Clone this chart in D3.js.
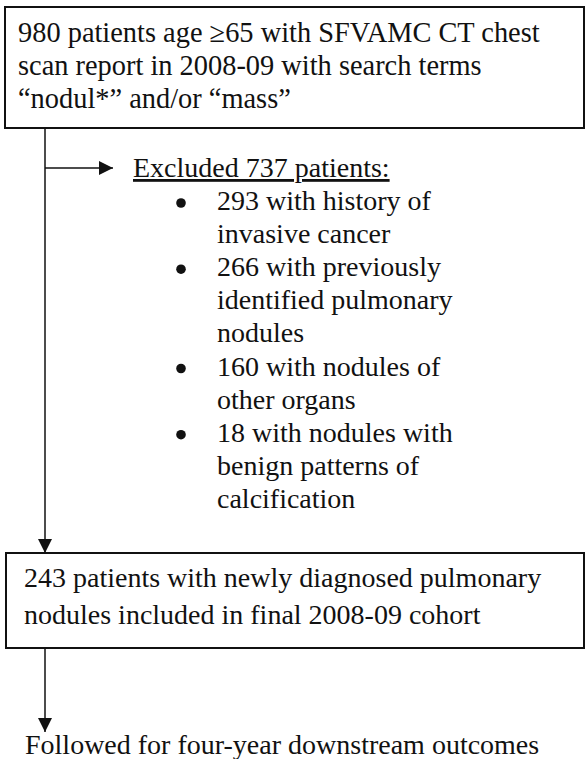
<!DOCTYPE html>
<html>
<head>
<meta charset="utf-8">
<script src="https://cdn.jsdelivr.net/npm/d3@7"></script>
<style>
  body { margin: 0; background: #fff; }
</style>
</head>
<body>
<div id="chart"></div>
<script>
// flowchart text, one entry per printed line
var topLines = [
    '980 patients age \u226565 with SFVAMC CT chest',
    'scan report in 2008-09 with search terms',
    '\u201cnodul*\u201d and/or \u201cmass\u201d'
];
var excludedTitle = 'Excluded 737 patients:';
var excludedItems = [
    ['293 with history of', 'invasive cancer'],
    ['266 with previously', 'identified pulmonary', 'nodules'],
    ['160 with nodules of', 'other organs'],
    ['18 with nodules with', 'benign patterns of', 'calcification']
];
var cohortLines = [
    '243 patients with newly diagnosed pulmonary',
    'nodules included in final 2008-09 cohort'
];
var followLine = 'Followed for four-year downstream outcomes';

var width = 585, height = 759;
var font = '"Liberation Serif", "Times New Roman", serif';
var fs = 28;

var svg = d3.select('#chart').append('svg')
    .attr('width', width)
    .attr('height', height)
    .style('font-family', font)
    .style('font-size', fs + 'px');

svg.append('defs').append('marker')
    .attr('id', 'head')
    .attr('viewBox', '0 0 14 14')
    .attr('refX', 14)
    .attr('refY', 7)
    .attr('markerWidth', 14)
    .attr('markerHeight', 14)
    .attr('markerUnits', 'userSpaceOnUse')
    .attr('orient', 'auto')
  .append('path')
    .attr('d', 'M0,0L14,7L0,14Z')
    .attr('fill', '#111');

var spineX = 45;

// top box
svg.append('rect')
    .attr('x', 5).attr('y', 7)
    .attr('width', 579).attr('height', 121)
    .attr('fill', 'none').attr('stroke', '#111').attr('stroke-width', 2);

var yTop = d3.scaleLinear().domain([0, 1]).range([42, 75]);
svg.selectAll('.topLine')
    .data(topLines)
    .enter().append('text')
        .attr('class', 'topLine')
        .attr('x', 18)
        .attr('y', (d, i) => yTop(i))
        .attr('fill', '#111')
        .style('font-size', '28.4px')
        .text(d => d);

// spine down to the cohort box
svg.append('line')
    .attr('x1', spineX).attr('x2', spineX)
    .attr('y1', 128).attr('y2', 553)
    .attr('stroke', '#111').attr('stroke-width', 1.5)
    .attr('marker-end', 'url(#head)');

// branch to exclusions
svg.append('line')
    .attr('x1', spineX).attr('x2', 113)
    .attr('y1', 168).attr('y2', 168)
    .attr('stroke', '#111').attr('stroke-width', 1.5)
    .attr('marker-end', 'url(#head)');

svg.append('text')
    .attr('x', 133).attr('y', 177)
    .attr('fill', '#111')
    .style('text-decoration', 'underline')
    .text(excludedTitle);

// flatten bullet lines so they share one line step
var bulletRows = [];
excludedItems.forEach(function(item, k) {
    item.forEach(function(t, j) { bulletRows.push({text: t, first: j == 0, item: k}); });
});
var yBul = d3.scaleLinear().domain([0, 1]).range([210, 243.1]);

var rows = svg.selectAll('.bulletRow')
    .data(bulletRows)
    .enter().append('g')
        .attr('class', 'bulletRow')
        .attr('transform', (d, i) => 'translate(0,' + yBul(i) + ')');

rows.filter(d => d.first).append('circle')
    .attr('cx', 181).attr('cy', -7)
    .attr('r', 4.8)
    .attr('fill', '#111');

rows.append('text')
    .attr('x', 217).attr('y', 0)
    .attr('fill', '#111')
    .text(d => d.text);

// cohort box
svg.append('rect')
    .attr('x', 6).attr('y', 553)
    .attr('width', 578).attr('height', 95)
    .attr('fill', 'none').attr('stroke', '#111').attr('stroke-width', 2);

var yCoh = d3.scaleLinear().domain([0, 1]).range([587, 624]);
svg.selectAll('.cohLine')
    .data(cohortLines)
    .enter().append('text')
        .attr('class', 'cohLine')
        .attr('x', 24)
        .attr('y', (d, i) => yCoh(i))
        .attr('fill', '#111')
        .text(d => d);

svg.append('line')
    .attr('x1', spineX).attr('x2', spineX)
    .attr('y1', 648).attr('y2', 732)
    .attr('stroke', '#111').attr('stroke-width', 1.5)
    .attr('marker-end', 'url(#head)');

svg.append('text')
    .attr('x', 25).attr('y', 754)
    .attr('fill', '#111')
    .text(followLine);
</script>
</body>
</html>
